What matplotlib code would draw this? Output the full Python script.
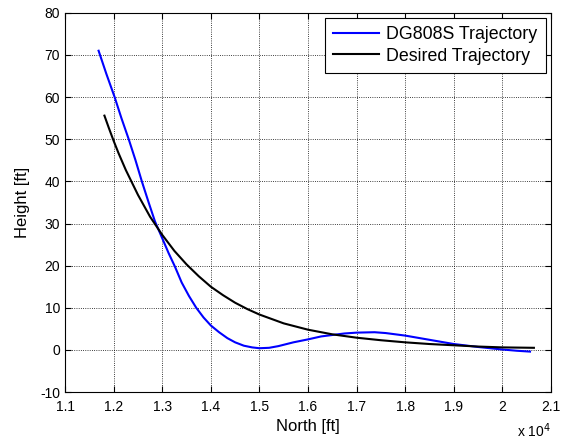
import matplotlib
matplotlib.use("Agg")
import matplotlib.pyplot as plt
from matplotlib.ticker import FuncFormatter

# trajectory data (north in ft, height in ft)
dg_north = [11690, 11850, 12020, 12160, 12310, 12450, 12580, 12720, 12850, 13000,
            13130, 13260, 13400, 13550, 13700, 13850, 14000, 14170, 14340, 14500,
            14680, 14850, 15000, 15200, 15390, 15700, 16000, 16270, 16540, 16750,
            17000, 17370, 17600, 18000, 18500, 19000, 19500, 20000, 20300, 20570]
dg_height = [71, 65.5, 60, 55, 50, 45, 40, 35, 30.5, 26.5,
             23, 19.8, 16, 12.8, 10.0, 7.7, 5.8, 4.2, 2.8, 1.8,
             1.0, 0.6, 0.4, 0.5, 0.9, 1.8, 2.5, 3.2, 3.6, 3.9,
             4.1, 4.2, 4.0, 3.4, 2.4, 1.4, 0.7, 0.1, -0.2, -0.4]

des_north = [11810, 11900, 12000, 12100, 12250, 12500, 12750, 13000, 13250, 13500,
             13750, 14000, 14250, 14500, 14750, 15000, 15500, 16000, 16500, 17000,
             17500, 18000, 18500, 19000, 19500, 20000, 20650]
des_height = [55.6, 52.7, 49.6, 46.7, 42.7, 36.8, 31.6, 27.3, 23.5, 20.3,
              17.5, 15.0, 13.0, 11.2, 9.7, 8.4, 6.3, 4.8, 3.7, 2.9,
              2.3, 1.8, 1.4, 1.1, 0.8, 0.6, 0.5]

x_ticks = [11000, 12000, 13000, 14000, 15000, 16000, 17000, 18000, 19000, 20000, 21000]
y_ticks = [-10, 0, 10, 20, 30, 40, 50, 60, 70, 80]

plt.rcParams['font.family'] = ['Liberation Sans', 'DejaVu Sans']
plt.rcParams['font.size'] = 10
plt.rcParams['axes.unicode_minus'] = False

fig = plt.figure(figsize=(5.61, 4.42), dpi=100)
ax = fig.add_axes([0.116, 0.113, 0.866, 0.858])

ax.plot(dg_north, dg_height, color='#0000ff', lw=1.5, label='DG808S Trajectory')
ax.plot(des_north, des_height, color='black', lw=1.5, label='Desired Trajectory')

ax.set_xlim(11000, 21000)
ax.set_ylim(-10, 80)
ax.set_xticks(x_ticks)
ax.set_yticks(y_ticks)
ax.xaxis.set_major_formatter(FuncFormatter(lambda v, p: f"{v / 1e4:g}"))
ax.tick_params(direction='in', top=True, right=True, length=4, width=0.8)
ax.tick_params(axis='x', pad=6)
ax.grid(True, linestyle=':', color='black', lw=0.6)
for s in ax.spines.values():
    s.set_linewidth(0.8)

ax.set_xlabel('North [ft]', fontsize=12, labelpad=3)
ax.set_ylabel('Height [ft]', fontsize=12, labelpad=7)
fig.text(0.921, 0.012, r'x 10$^{4}$', fontsize=10)

leg = ax.legend(loc='upper right', fancybox=False, edgecolor='black',
                framealpha=1, handlelength=2.6, handletextpad=0.4,
                borderaxespad=0.3, fontsize=12.8, borderpad=0.45,
                labelspacing=0.25)
leg.get_frame().set_linewidth(0.8)

fig.savefig('out.png', dpi=100)
